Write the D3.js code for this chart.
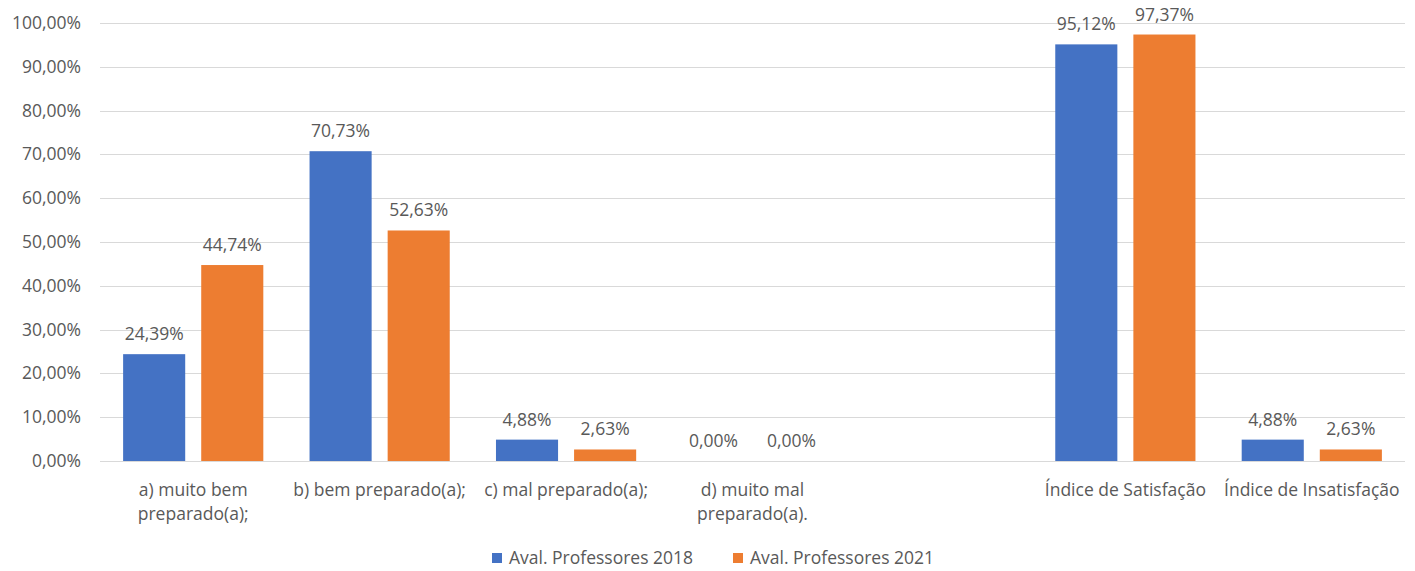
<!doctype html>
<html>
  <head>
    <meta charset="utf-8">
    <title>Aval. Professores</title>
    <script src="https://cdnjs.cloudflare.com/ajax/libs/d3/7.8.5/d3.min.js"></script>
    <style>
      body { margin: 0; background: #fff; }
      text { font-family: "Open Sans", Lato, sans-serif; fill: #595959; }
    </style>
  </head>
  <body>
    <div id="chart"></div>
    <script>
      // data
      const categories = [
        "a) muito bem preparado(a);",
        "b) bem preparado(a);",
        "c) mal preparado(a);",
        "d) muito mal preparado(a).",
        "",
        "Índice de Satisfação",
        "Índice de Insatisfação"
      ];
      const series = ["Aval. Professores 2018", "Aval. Professores 2021"];
      const values2018 = [24.39, 70.73, 4.88, 0.00, null, 95.12, 4.88];
      const values2021 = [44.74, 52.63, 2.63, 0.00, null, 97.37, 2.63];
      const yTicks = [0, 10, 20, 30, 40, 50, 60, 70, 80, 90, 100];
      const colors = ["#4472C4", "#ED7D31"];

      const W = 1415, H = 571;
      const plotL = 100, plotR = 1405, plotT = 23, plotB = 461;
      const fs = "17.5px";

      const fmt = v => v.toFixed(2).replace(".", ",") + "%";

      const svg = d3.select("#chart").append("svg")
        .attr("width", W).attr("height", H);

      const x = d3.scaleBand().domain(d3.range(categories.length))
        .range([plotL, plotR]).paddingInner(0.248).paddingOuter(0.124);
      const xs = d3.scaleBand().domain([0, 1]).range([0, x.bandwidth()]).paddingInner(0.205);
      const y = d3.scaleLinear().domain([0, 100]).range([plotB, plotT]);

      // gridlines + tick labels
      svg.append("g").selectAll("line").data(yTicks).join("line")
        .attr("x1", plotL).attr("x2", plotR)
        .attr("y1", d => Math.round(y(d)) + 0.5).attr("y2", d => Math.round(y(d)) + 0.5)
        .attr("stroke", "#d9d9d9").attr("stroke-width", 1);

      svg.append("g").selectAll("text").data(yTicks).join("text")
        .attr("x", 81).attr("y", d => y(d) + 6)
        .attr("text-anchor", "end").style("font-size", fs)
        .text(d => fmt(d));

      // bars
      const rows = [];
      categories.forEach((c, i) => {
        [values2018[i], values2021[i]].forEach((v, s) => {
          if (v !== null) rows.push({ i, s, v });
        });
      });

      svg.append("g").selectAll("rect").data(rows).join("rect")
        .attr("x", d => x(d.i) + xs(d.s))
        .attr("width", xs.bandwidth())
        .attr("y", d => y(d.v))
        .attr("height", d => plotB - y(d.v))
        .attr("fill", d => colors[d.s]);

      svg.append("g").selectAll("text").data(rows).join("text")
        .attr("x", d => x(d.i) + xs(d.s) + xs.bandwidth() / 2)
        .attr("y", d => y(d.v) - 14)
        .attr("text-anchor", "middle").style("font-size", fs)
        .text(d => fmt(d.v));

      // category labels, wrapped
      const labels = svg.append("g").selectAll("text").data(categories).join("text")
        .attr("x", (d, i) => x(i) + x.bandwidth() / 2)
        .attr("y", 496)
        .attr("text-anchor", "middle").style("font-size", fs);

      labels.each(function (d) {
        const t = d3.select(this);
        const cx = +t.attr("x");
        const words = d.split(" ");
        let line = [], lines = [];
        const probe = t.append("tspan");
        words.forEach(w => {
          line.push(w);
          probe.text(line.join(" "));
          if (probe.node().getComputedTextLength() > 190 && line.length > 1) {
            line.pop();
            lines.push(line.join(" "));
            line = [w];
          }
        });
        lines.push(line.join(" "));
        probe.remove();
        lines.forEach((l, k) => {
          t.append("tspan").attr("x", cx).attr("dy", k === 0 ? 0 : 24).text(l);
        });
      });

      // legend
      const legX = [492, 733];
      const leg = svg.append("g").selectAll("g").data(series).join("g")
        .attr("transform", (d, i) => `translate(${legX[i]},553)`);
      leg.append("rect").attr("width", 10).attr("height", 10)
        .attr("fill", (d, i) => colors[i]);
      leg.append("text").attr("x", 17).attr("y", 11)
        .style("font-size", fs).text(d => d);
    </script>
  </body>
</html>
